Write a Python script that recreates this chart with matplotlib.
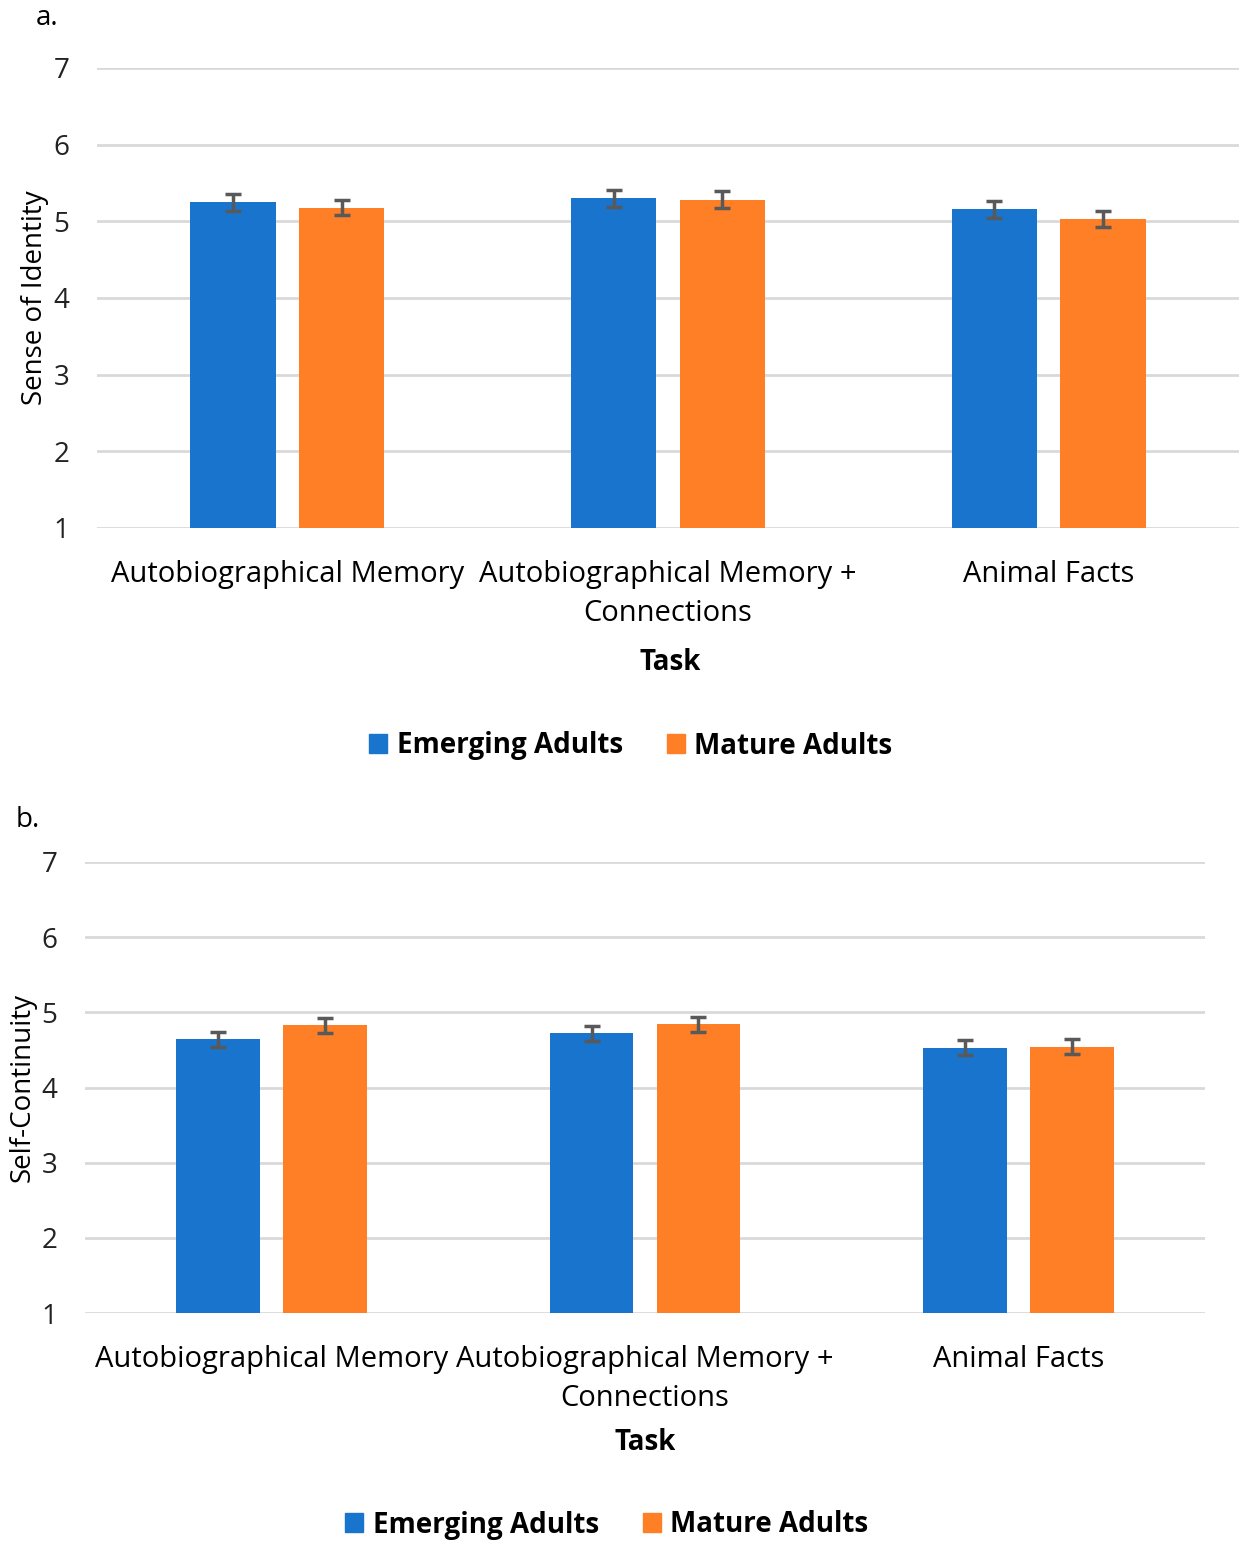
import numpy as np
import matplotlib
matplotlib.use("Agg")
from matplotlib import pyplot as plt
from matplotlib.patches import Patch

plt.rcParams['font.family'] = ['Open Sans', 'DejaVu Sans']

tasks = ["Autobiographical Memory", "Autobiographical Memory +\nConnections", "Animal Facts"]
groups = ["Emerging Adults", "Mature Adults"]
colors = ["#1874CD", "#FF7F27"]

# panel a - sense of identity
identity_emerging = [5.25, 5.30, 5.16]
identity_mature = [5.18, 5.28, 5.03]
identity_emerging_err = [0.11, 0.11, 0.11]
identity_mature_err = [0.10, 0.11, 0.10]

# panel b - self-continuity
continuity_emerging = [4.64, 4.72, 4.53]
continuity_mature = [4.83, 4.84, 4.54]
continuity_emerging_err = [0.10, 0.10, 0.10]
continuity_mature_err = [0.10, 0.10, 0.10]

W, H = 1239, 1543
FS = 20
fig = plt.figure(figsize=(W / 100, H / 100), dpi=100)


def panel(rect, ylabel, emerging, mature, err_e, err_m, letter, letter_xy, task_xy, legend_xy):
    left, top, right, bottom = rect
    ax = fig.add_axes([left / W, 1 - bottom / H, (right - left) / W, (bottom - top) / H])
    x = np.arange(len(tasks))
    off = 0.143
    bw = 0.224
    for vals, errs, c, d in [(emerging, err_e, colors[0], -off), (mature, err_m, colors[1], off)]:
        ax.bar(x + d, vals, bw, bottom=0, color=c, zorder=2)
        ax.errorbar(x + d, vals, yerr=errs, fmt="none", ecolor="#595959",
                    elinewidth=2.5, capsize=6, capthick=2.5, zorder=3)
    ax.set_ylim(1, 7)
    ax.set_xlim(-0.5, 2.5)
    ax.set_yticks(range(1, 8))
    ax.yaxis.grid(True, color="#d9d9d9", lw=2, zorder=0)
    for s in ax.spines.values():
        s.set_visible(False)
    ax.tick_params(axis="y", length=0, pad=20, labelsize=FS, labelcolor="#222222")
    ax.tick_params(axis="x", length=0, pad=23, labelsize=21)
    ax.set_xticks(x)
    ax.set_xticklabels(tasks, linespacing=1.45)
    ax.set_ylabel(ylabel, fontsize=FS, labelpad=3)
    fig.text(letter_xy[0] / W, 1 - letter_xy[1] / H, letter, fontsize=FS, ha="center", va="center")
    fig.text(task_xy[0] / W, 1 - task_xy[1] / H, "Task", fontsize=FS,
             fontweight="bold", ha="center", va="center")
    handles = [Patch(color=colors[0], label=groups[0]), Patch(color=colors[1], label=groups[1])]
    fig.legend(handles=handles, loc="center", bbox_to_anchor=(legend_xy[0] / W, 1 - legend_xy[1] / H),
               ncol=2, frameon=False, prop={"size": FS, "weight": "bold"},
               handlelength=0.65, handleheight=0.65, handletextpad=0.33, columnspacing=1.6)
    return ax


panel((97, 68, 1239, 528), "Sense of Identity", identity_emerging, identity_mature,
      identity_emerging_err, identity_mature_err, "a.", (47, 18), (670, 662), (631, 746))
panel((85, 862, 1205, 1313), "Self-Continuity", continuity_emerging, continuity_mature,
      continuity_emerging_err, continuity_mature_err, "b.", (28, 820), (645, 1443), (607, 1525))

fig.savefig("out.png", dpi=100)
